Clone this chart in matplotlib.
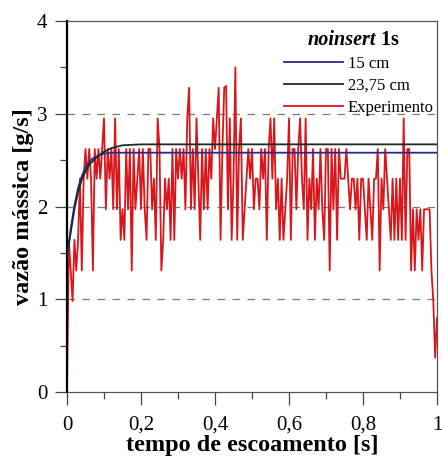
import numpy as np
import matplotlib
matplotlib.use("Agg")
import matplotlib.pyplot as plt
from matplotlib.ticker import MultipleLocator, FuncFormatter

plt.rcParams['font.family'] = ['Liberation Serif', 'DejaVu Serif']
plt.rcParams['mathtext.fontset'] = 'stix'

# medicao experimental (amostragem de 5 ms)
dt = 0.005
vazao_exp = [
    0.00, 1.64, 1.31, 0.98, 1.64, 1.31, 1.64, 2.30, 1.31, 2.30,
    2.62, 2.30, 2.62, 2.30, 1.31, 2.62, 2.30, 2.62, 2.30, 2.62,
    2.95, 1.97, 2.62, 2.30, 2.62, 1.97, 2.95, 1.97, 2.62, 1.64,
    1.97, 1.64, 2.62, 1.97, 2.62, 1.31, 2.62, 1.97, 2.30, 2.62,
    1.97, 2.62, 1.97, 1.64, 2.62, 2.62, 1.97, 2.30, 1.64, 2.95,
    2.62, 1.31, 1.64, 2.30, 1.97, 2.30, 1.64, 2.62, 1.64, 2.62,
    2.30, 2.62, 2.30, 2.62, 1.97, 2.95, 3.28, 1.97, 2.62, 1.97,
    2.95, 2.30, 1.64, 2.62, 1.97, 2.62, 1.97, 2.62, 2.30, 2.95,
    2.62, 2.95, 3.28, 1.64, 2.62, 3.28, 3.30, 1.97, 2.95, 1.64,
    2.30, 3.50, 1.64, 2.62, 2.95, 1.64, 1.97, 2.30, 2.62, 2.30,
    2.62, 1.97, 2.30, 2.30, 1.97, 2.62, 2.30, 2.62, 1.64, 2.62,
    2.95, 2.30, 2.95, 1.97, 2.30, 1.64, 2.30, 1.64, 1.97, 2.30,
    2.95, 1.64, 2.62, 2.62, 1.97, 2.62, 2.95, 2.30, 1.97, 2.95,
    1.64, 2.30, 1.97, 2.62, 1.64, 2.30, 1.97, 2.62, 1.97, 1.64,
    2.62, 2.62, 1.31, 2.62, 1.97, 2.62, 1.64, 2.62, 2.30, 2.30,
    2.30, 2.62, 2.30, 1.97, 2.30, 2.30, 1.97, 2.30, 1.64, 2.30,
    2.30, 1.97, 1.64, 2.30, 1.97, 1.64, 2.30, 2.30, 2.62, 1.31,
    2.30, 1.97, 2.62, 2.30, 1.97, 1.64, 2.30, 1.64, 2.30, 1.64,
    2.30, 1.64, 2.95, 1.64, 2.62, 2.62, 1.31, 1.97, 1.31, 1.97,
    1.64, 1.97, 1.31, 1.97, 1.97, 1.97, 1.97, 1.31, 0.98, 0.37,
    0.80,
]
t_exp = np.arange(len(vazao_exp)) * dt

# modelo, comprimento 15 cm
t_15 = [0, 0.01, 0.02, 0.03, 0.04, 0.05, 0.06, 0.07, 0.08, 0.09, 0.10, 0.12, 1.0]
vazao_15 = [1.45, 1.76, 2.01, 2.20, 2.33, 2.42, 2.48, 2.52, 2.54, 2.56, 2.57, 2.58, 2.58]

# modelo, comprimento 23,75 cm
t_2375 = [0, 0.01, 0.02, 0.03, 0.04, 0.05, 0.06, 0.08, 0.10, 0.12, 0.15, 0.20, 1.0]
vazao_2375 = [1.45, 1.72, 1.97, 2.16, 2.29, 2.38, 2.45, 2.53, 2.59, 2.63, 2.66, 2.67, 2.67]

fig = plt.figure(figsize=(4.42, 4.57), dpi=100)
ax = fig.add_axes([67 / 442, 65 / 457, 370 / 442, 371 / 457])

l15, = ax.plot(t_15, vazao_15, color='#2a2a8a', lw=1.3, zorder=3)
l23, = ax.plot(t_2375, vazao_2375, color='#1c2b26', lw=1.3, zorder=3)
lexp, = ax.plot(t_exp, vazao_exp, color='#d8161b', lw=1.3, zorder=2)

for yv in [1, 2, 3]:
    ax.axhline(yv, color='#7a7a7a', lw=0.9, ls=(0, (6, 6)), zorder=1)

ax.set_xlim(0, 1)
ax.set_ylim(0, 4)
ax.xaxis.set_major_locator(MultipleLocator(0.2))
ax.xaxis.set_minor_locator(MultipleLocator(0.1))
ax.yaxis.set_major_locator(MultipleLocator(1))
ax.yaxis.set_minor_locator(MultipleLocator(0.5))
ax.xaxis.set_major_formatter(FuncFormatter(lambda v, p: ('%g' % round(v, 1)).replace('.', ',')))
ax.tick_params(which='major', direction='out', length=9, width=0.9, labelsize=15,
               color='#444444', pad=5)
ax.tick_params(axis='x', which='major', pad=8)
ax.tick_params(which='minor', direction='out', length=5, width=0.9, color='#444444')

for s in ['top', 'right', 'bottom']:
    ax.spines[s].set_color('#555555')
    ax.spines[s].set_linewidth(0.9)
ax.spines['left'].set_color('black')
ax.spines['left'].set_linewidth(1.6)

ax.set_xlabel('tempo de escoamento [s]', fontsize=17.5, fontweight='bold', labelpad=0)
ax.set_ylabel('vazão mássica [g/s]', fontsize=17.5, fontweight='bold', labelpad=2)

leg = ax.legend([l15, l23, lexp], ['15 cm', '23,75 cm', 'Experimento'],
                loc='upper right', bbox_to_anchor=(1.0, 0.915), frameon=False,
                fontsize=12, handlelength=3.5, handletextpad=0.3,
                labelspacing=0.35, borderpad=0.1, borderaxespad=0.1)

# titulo da legenda
t1 = ax.text(0.65, 0.948, 'noinsert', transform=ax.transAxes, fontsize=14.5,
             fontweight='bold', style='italic', va='center', ha='left')
ax.annotate(' 1s', xy=(1, 0.5), xycoords=t1, va='center', ha='left',
            fontsize=14.5, fontweight='bold')

fig.savefig('out.png', dpi=100)
